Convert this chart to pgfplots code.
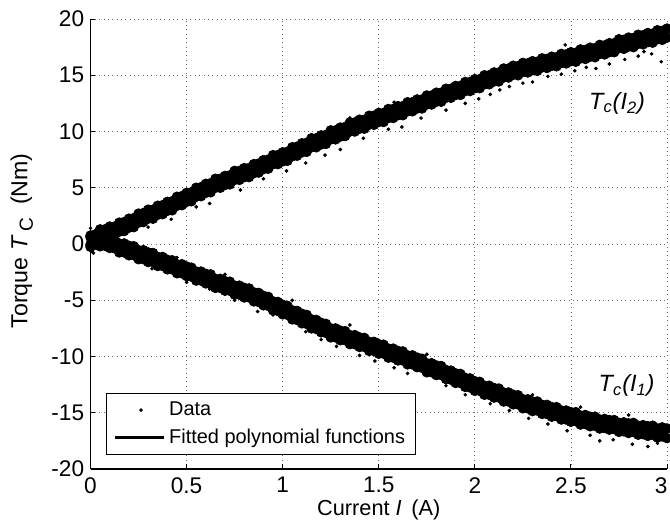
\documentclass[border=0pt]{standalone}
\usepackage{fontspec}
\setmainfont{Liberation Sans}
\usepackage{pgfplots}
\usepackage{pgfplotstable}
\pgfplotsset{compat=1.18}

% measured bands: x, upper band (two rows), lower band (two rows)
\pgfplotstableread{
x     ua     ub     la      lb
0.000 0.75   -0.05  0.6     -0.25
0.025 0.85   0.05   0.75    -0.05
0.050 1.3    0.5    0.6     -0.2
0.075 1.3    0.5    0.65    -0.15
0.100 1.55   0.75   0.5     -0.35
0.125 1.55   0.75   0.42    -0.38
0.150 1.9    1.1    0.05    -0.75
0.175 1.95   1.15   0.05    -0.75
0.200 2.25   1.45   -0.15   -1.0
0.225 2.3    1.5    -0.2    -1.0
0.250 2.7    1.9    -0.55   -1.35
0.275 2.75   1.95   -0.55   -1.35
0.300 3.05   2.25   -0.75   -1.6
0.325 3.05   2.25   -0.8    -1.6
0.350 3.4    2.6    -1.15   -1.95
0.375 3.45   2.65   -1.15   -1.95
0.400 3.75   2.95   -1.4    -2.25
0.425 3.8    3.0    -1.45   -2.25
0.450 4.2    3.4    -1.8    -2.6
0.475 4.25   3.45   -1.8    -2.6
0.500 4.55   3.75   -2.0    -2.85
0.525 4.6    3.8    -2.1    -2.9
0.550 5.0    4.2    -2.45   -3.25
0.575 5.05   4.25   -2.45   -3.25
0.600 5.35   4.55   -2.65   -3.5
0.625 5.4    4.6    -2.7    -3.5
0.650 5.8    5.0    -3.1    -3.9
0.675 5.8    5.0    -3.1    -3.9
0.700 6.05   5.25   -3.3    -4.15
0.725 6.1    5.3    -3.35   -4.15
0.750 6.5    5.7    -3.7    -4.5
0.775 6.5    5.7    -3.7    -4.5
0.800 6.75   5.95   -3.9    -4.75
0.825 6.75   5.95   -3.95   -4.75
0.850 7.1    6.3    -4.3    -5.1
0.875 7.15   6.35   -4.35   -5.15
0.900 7.45   6.65   -4.6    -5.45
0.925 7.5    6.7    -4.7    -5.5
0.950 7.9    7.1    -5.1    -5.9
0.975 7.9    7.1    -5.15   -5.95
1.000 8.15   7.35   -5.4    -6.25
1.025 8.2    7.4    -5.5    -6.3
1.050 8.6    7.8    -5.9    -6.7
1.075 8.65   7.85   -5.95   -6.75
1.100 8.95   8.15   -6.2    -7.05
1.125 9.0    8.2    -6.3    -7.1
1.150 9.4    8.6    -6.7    -7.5
1.175 9.4    8.6    -6.75   -7.55
1.200 9.65   8.85   -7.0    -7.85
1.225 9.7    8.9    -7.1    -7.9
1.250 10.1   9.3    -7.5    -8.3
1.275 10.1   9.3    -7.5    -8.3
1.300 10.35  9.55   -7.7    -8.55
1.325 10.4   9.6    -7.75   -8.55
1.350 10.8   10.0   -8.1    -8.9
1.375 10.8   10.0   -8.1    -8.9
1.400 11.05  10.25  -8.3    -9.15
1.425 11.05  10.25  -8.35   -9.15
1.450 11.4   10.6   -8.7    -9.5
1.475 11.4   10.6   -8.7    -9.5
1.500 11.65  10.85  -8.9    -9.75
1.525 11.65  10.85  -8.95   -9.75
1.550 12.0   11.2   -9.3    -10.1
1.575 12.0   11.2   -9.3    -10.1
1.600 12.25  11.45  -9.5    -10.35
1.625 12.25  11.45  -9.55   -10.35
1.650 12.6   11.8   -9.9    -10.7
1.675 12.6   11.8   -9.9    -10.7
1.700 12.85  12.05  -10.1   -10.95
1.725 12.85  12.05  -10.2   -11.0
1.750 13.2   12.4   -10.6   -11.4
1.775 13.2   12.4   -10.6   -11.4
1.800 13.45  12.65  -10.8   -11.65
1.825 13.45  12.65  -10.85  -11.65
1.850 13.8   13.0   -11.2   -12.0
1.875 13.8   13.0   -11.25  -12.05
1.900 14.05  13.25  -11.5   -12.35
1.925 14.05  13.25  -11.55  -12.35
1.950 14.4   13.6   -11.9   -12.7
1.975 14.4   13.6   -11.95  -12.75
2.000 14.65  13.85  -12.2   -13.05
2.025 14.65  13.85  -12.25  -13.05
2.050 15.0   14.2   -12.6   -13.4
2.075 15.0   14.2   -12.6   -13.4
2.100 15.25  14.45  -12.8   -13.65
2.125 15.25  14.45  -12.85  -13.65
2.150 15.6   14.8   -13.2   -14.0
2.175 15.6   14.8   -13.2   -14.0
2.200 15.85  15.05  -13.4   -14.25
2.225 15.8   15.0   -13.45  -14.25
2.250 16.1   15.3   -13.8   -14.6
2.275 16.05  15.25  -13.8   -14.6
2.300 16.25  15.45  -14.0   -14.85
2.325 16.2   15.4   -14.0   -14.8
2.350 16.5   15.7   -14.3   -15.1
2.375 16.45  15.65  -14.3   -15.1
2.400 16.65  15.85  -14.5   -15.35
2.425 16.6   15.8   -14.5   -15.3
2.450 16.9   16.1   -14.8   -15.6
2.475 16.85  16.05  -14.8   -15.6
2.500 17.05  16.25  -14.95  -15.8
2.525 17.0   16.2   -14.95  -15.75
2.550 17.3   16.5   -15.25  -16.05
2.575 17.25  16.45  -15.2   -16.0
2.600 17.45  16.65  -15.35  -16.2
2.625 17.4   16.6   -15.35  -16.15
2.650 17.7   16.9   -15.6   -16.4
2.675 17.65  16.85  -15.55  -16.35
2.700 17.85  17.05  -15.65  -16.5
2.725 17.85  17.05  -15.65  -16.45
2.750 18.2   17.4   -15.9   -16.7
2.775 18.15  17.35  -15.85  -16.65
2.800 18.35  17.55  -15.95  -16.8
2.825 18.3   17.5   -15.9   -16.7
2.850 18.6   17.8   -16.15  -16.95
2.875 18.55  17.75  -16.1   -16.9
2.900 18.75  17.95  -16.2   -17.05
2.925 18.7   17.9   -16.15  -16.95
2.950 19.0   18.2   -16.4   -17.2
2.975 18.95  18.15  -16.3   -17.1
3.000 19.15  18.35  -16.4   -17.25
}\bands

% scattered points off the bands
\pgfplotstableread{
x    y
0.00 1.4
0.01 -0.7
0.02 1.1
0.005 -0.4
0.03 1.3
0.015 -0.8
0.04 0.9
0.30 1.5
0.42 2.2
0.55 3.3
0.62 3.6
0.78 4.8
0.90 5.8
1.02 6.5
1.12 7.2
1.22 7.9
1.30 8.4
1.42 9.4
1.55 10.2
1.62 10.4
1.72 11.2
1.85 11.9
1.95 12.5
2.02 12.9
2.08 13.3
2.13 13.7
2.18 14.0
2.25 14.3
2.30 14.4
2.38 14.9
2.45 15.1
2.52 15.4
2.58 15.7
2.63 15.6
2.70 16.0
2.78 16.4
2.85 16.7
2.92 16.9
2.97 16.2
2.88 17.1
1.58 12.6
1.35 11.2
2.47 17.7
0.45 -1.2
0.70 -2.7
1.05 -5.0
1.35 -7.2
1.75 -9.8
2.30 -13.4
2.55 -14.5
2.80 -15.2
0.32 -2.2
0.50 -3.4
0.62 -4.0
0.75 -5.0
0.87 -6.0
0.95 -6.3
1.12 -7.8
1.20 -8.5
1.28 -9.1
1.40 -9.9
1.48 -10.4
1.58 -11.0
1.65 -11.5
1.85 -12.6
1.95 -13.4
2.08 -14.2
2.18 -14.8
2.28 -15.5
2.38 -16.0
2.48 -16.6
2.60 -17.0
2.72 -17.4
2.82 -17.8
2.90 -18.0
2.95 -17.7
2.65 -17.5
}\strays

\begin{document}
\begin{tikzpicture}
\begin{axis}[
  scale only axis,
  width=11.186cm, height=8.731cm,
  xmin=0, xmax=3, ymin=-20, ymax=20,
  xtick={0,0.5,1,1.5,2,2.5,3},
  xticklabels={0,0.5,1,1.5,2,2.5,{\hspace*{-6.5pt}3}},
  ytick={-20,-15,-10,-5,0,5,10,15,20},
  axis x line*=bottom, axis y line*=left,
  axis line style={line width=0.8pt, -},
  tick align=inside, major tick length=2.5pt,
  tick style={black, line width=0.5pt},
  grid=major,
  grid style={dotted, black!60, line width=0.4pt},
  /pgf/number format/assume math mode=true,
  ticklabel style={font=\fontsize{12.5}{14}\selectfont},
  xticklabel style={yshift=-1pt},
  xlabel={Current \textit{I}\, (A)},
  ylabel={Torque \textit{T}\,\raisebox{-0.45ex}{\fontsize{10.5}{12}\selectfont C}\ \ (Nm)},
  xlabel style={font=\fontsize{12}{14}\selectfont,
    at={(axis description cs:0.5,-0.091)}, anchor=center},
  ylabel style={font=\fontsize{12.8}{15}\selectfont,
    at={(axis description cs:-0.119,0.507)}, anchor=center},
  legend style={at={(axis description cs:0.027,0.031)}, anchor=south west,
    draw=black, line width=0.6pt, fill=white,
    font=\fontsize{11}{13}\selectfont,
    inner xsep=4pt, inner ysep=2.5pt, row sep=2pt},
  legend cell align=left,
]
\addplot[only marks, mark=*, mark size=2.7pt, black,
  legend image code/.code={\fill[black] (0.5cm,0cm) circle (0.7pt);}]
  table[x=x, y=ua] {\bands};
\addlegendentry{Data}
\addplot[only marks, mark=*, mark size=2.7pt, black, forget plot] table[x=x, y=ub] {\bands};
\addplot[only marks, mark=*, mark size=2.7pt, black, forget plot] table[x=x, y=la] {\bands};
\addplot[only marks, mark=*, mark size=2.7pt, black, forget plot] table[x=x, y=lb] {\bands};
\addplot[only marks, mark=*, mark size=0.8pt, black, forget plot] table[x=x, y=y] {\strays};

\addplot[black, line width=1.2pt, smooth,
  legend image code/.code={\draw[black, line width=1.5pt] (0cm,0cm) -- (0.95cm,0cm);}]
  coordinates {(0,0.3) (0.1,1.1) (0.2,1.8) (0.3,2.6) (0.4,3.3) (0.5,4.1) (0.6,4.9)
    (0.7,5.6) (0.8,6.3) (0.9,7.0) (1.0,7.7) (1.1,8.5) (1.2,9.2) (1.3,9.9) (1.4,10.6)
    (1.5,11.2) (1.6,11.8) (1.7,12.4) (1.8,13.0) (1.9,13.6) (2.0,14.2) (2.1,14.8)
    (2.2,15.4) (2.3,15.8) (2.4,16.2) (2.5,16.6) (2.6,17.0) (2.7,17.4) (2.8,17.9)
    (2.9,18.3) (3.0,18.7)};
\addlegendentry{Fitted polynomial functions}
\addplot[black, line width=1.2pt, smooth, forget plot]
  coordinates {(0,0.2) (0.1,0.1) (0.2,-0.55) (0.3,-1.15) (0.4,-1.8) (0.5,-2.4)
    (0.6,-3.05) (0.7,-3.7) (0.8,-4.3) (0.9,-5.0) (1.0,-5.8) (1.1,-6.6) (1.2,-7.4)
    (1.3,-8.1) (1.4,-8.7) (1.5,-9.3) (1.6,-9.9) (1.7,-10.5) (1.8,-11.2) (1.9,-11.9)
    (2.0,-12.6) (2.1,-13.2) (2.2,-13.8) (2.3,-14.4) (2.4,-14.9) (2.5,-15.35)
    (2.6,-15.75) (2.7,-16.05) (2.8,-16.35) (2.9,-16.6) (3.0,-16.8)};

\node[font=\fontsize{13}{15}\selectfont\itshape] at (axis cs:2.74,12.5)
  {T\textsubscript{c}(I\textsubscript{2})};
\node[font=\fontsize{13}{15}\selectfont\itshape] at (axis cs:2.79,-12.6)
  {T\textsubscript{c}(I\textsubscript{1})};

\coordinate (bl) at (rel axis cs:0,0);
\coordinate (tr) at (rel axis cs:1,1);
\end{axis}
\pgfresetboundingbox
\path[use as bounding box] ([shift={(-1.756cm,-1.048cm)}]bl) rectangle ([shift={(0.058cm,0.369cm)}]tr);
\end{tikzpicture}
\end{document}
